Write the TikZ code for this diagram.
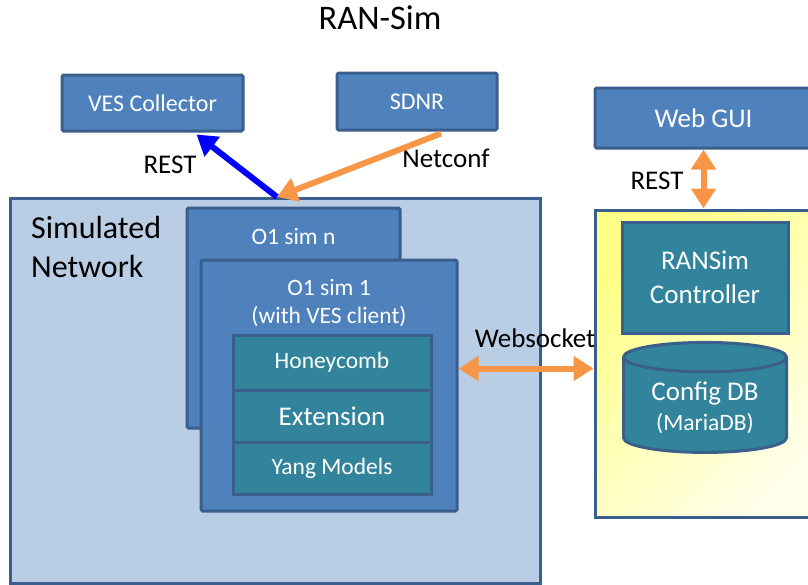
\documentclass[tikz,border=0pt]{standalone}
\usepackage{fontspec}
\setmainfont{Carlito}
\usetikzlibrary{arrows.meta,shapes.geometric,positioning}
\definecolor{boxblue}{HTML}{4F81BD}
\definecolor{boxedge}{HTML}{3A5F8C}
\definecolor{tealbox}{HTML}{31849B}
\definecolor{netbg}{HTML}{B9CDE5}
\definecolor{arrorange}{HTML}{F79646}
\definecolor{ranyellow}{HTML}{FFFF88}
\definecolor{ranmid}{HTML}{FFFFC2}
\definecolor{ranpale}{HTML}{FFFFEC}
\begin{document}
\begin{tikzpicture}
  [x=1pt,y=-1pt,
   every node/.style={inner sep=0pt},
   box/.style={draw=boxedge,line width=3pt,rounded corners=1.5pt,fill=boxblue},
   tbox/.style={draw=boxedge,line width=3pt,fill=tealbox,text=white,align=center},
   wtxt/.style={text=white,align=center,font=\fontsize{24}{28}\selectfont},
   btxt/.style={text=black,font=\fontsize{27}{30}\selectfont},
   big/.style={font=\fontsize{27}{34}\selectfont},
   small/.style={font=\fontsize{23.5}{28}\selectfont},
   orarrow/.style={draw=arrorange,line width=6pt,-{Triangle[length=20pt,width=24pt]}},
   dblarrow/.style={draw=arrorange,line width=6pt,{Triangle[length=20pt,width=24pt]}-{Triangle[length=20pt,width=24pt]}}]
\useasboundingbox (0,0) rectangle (808,584);
\clip (0,0) rectangle (808,584);

\node (title) at (380,18) {\fontsize{34.5}{40}\selectfont RAN-Sim};

% top boxes
\node (ves)[box,wtxt,minimum width=181,minimum height=56] at (152.5,103) {VES Collector};
\node (sdnr)[box,wtxt,minimum width=160,minimum height=57] at (417,101.5) {SDNR};
\node (webgui)[box,wtxt,big,minimum width=217,minimum height=60] at (703.5,118) {Web GUI};

% simulated network
\node (simnet)[box,fill=netbg,rounded corners=0pt,minimum width=530,minimum height=385] at (275,390.5) {};
\node (simnettxt)[align=left,anchor=north west,font=\fontsize{32}{39}\selectfont] at (31,216) {Simulated\\Network};

\node (o1n)[box,minimum width=213,minimum height=220] at (293.5,318) {};
\node (o1ntxt)[wtxt,small] at (293.5,236) {O1 sim n};
\node (o1one)[box,minimum width=256,minimum height=251] at (329,385.5) {};
\node (o1onetxt)[wtxt,small,text depth=0pt] at (329,301) {O1 sim 1\\(with VES client)};

\node (honey)[tbox,small,minimum width=198,minimum height=55] at (332,362.5) {Honeycomb};
\node (ext)[tbox,big,minimum width=198,minimum height=52] at (332,416) {Extension};
\node (yang)[tbox,small,minimum width=198,minimum height=52] at (332,468) {Yang Models};

% RAN simulator side
\node (ranbox)[draw=boxedge,line width=3pt,top color=ranyellow,middle color=ranmid,bottom color=ranpale,shading angle=45,minimum width=235,minimum height=307] at (712.5,363.5) {};
\node (ransim)[tbox,big,minimum width=166,minimum height=111] at (705,277.5) {RANSim\\Controller};
\node (cfgdb)[cylinder,shape border rotate=90,aspect=0.18,tbox,minimum height=110] at (705,405.5) {\rule{163pt}{0pt}};
\node (cfgdbtxt)[text=white,align=center,big] at (705,408)
  {Config DB\\[-4pt]{\fontsize{23.5}{28}\selectfont (MariaDB)}};

% labels
\node (restl)[btxt] at (170,165) {REST};
\node (netconf)[btxt] at (446,158) {Netconf};
\node (restr)[btxt] at (657,181) {REST};
\node (websock)[btxt] at (535,338) {Websocket};

\coordinate (hub) at (277,197);

\draw[blue,line width=6pt,-{Triangle[length=20pt,width=24pt]}] (hub) -- ([xshift=44pt,yshift=-2pt]ves.south);
\draw[orarrow] ([xshift=24pt,yshift=-2pt]sdnr.south) -- (hub);
\draw[dblarrow] (webgui.south) -- (webgui.south |- ranbox.north);
\draw[dblarrow] ([yshift=17pt]o1one.east) -- ([yshift=17pt]o1one.east -| ranbox.west);
\end{tikzpicture}
\end{document}
